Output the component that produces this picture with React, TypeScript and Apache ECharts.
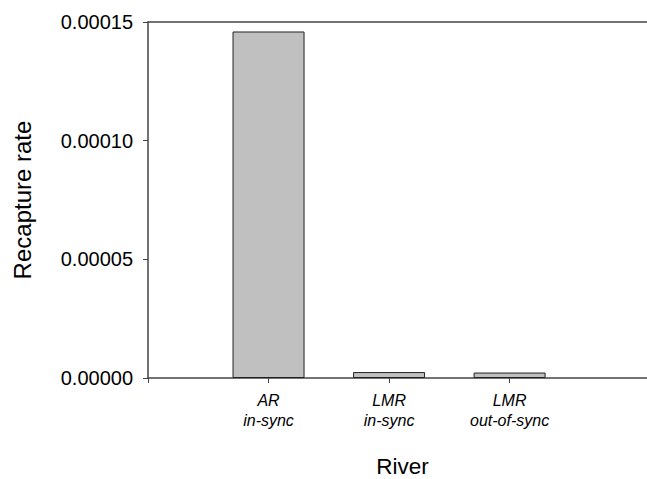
import React, { useEffect, useRef } from "react";
import * as echarts from "echarts";

const categories = ["AR\nin-sync", "LMR\nin-sync", "LMR\nout-of-sync"];
const positions = [1, 2, 3];
const recaptureRates = [0.000146, 0.0000025, 0.0000023];

const FONT = "'Liberation Sans', Arial, Helvetica, sans-serif";

export default function App() {
  const ref = useRef<HTMLDivElement>(null);
  useEffect(() => {
    if (!ref.current) return;
    const chart = echarts.init(ref.current, undefined, { renderer: "svg" });
    const axisLine = { show: true, lineStyle: { color: "#444", width: 1.5 } };
    chart.setOption({
      animation: false,
      backgroundColor: "#fff",
      grid: {
        left: 148,
        right: 0,
        top: 22,
        height: 356,
        containLabel: false,
        outerBoundsMode: "none",
      },
      xAxis: [
        {
          type: "value",
          min: 0,
          max: 4.14,
          interval: 1,
          position: "bottom",
          axisLine,
          splitLine: { show: false },
          axisTick: {
            show: true,
            length: 5,
            customValues: [0, ...positions],
            lineStyle: { color: "#444", width: 1 },
          },
          axisLabel: {
            show: true,
            customValues: positions,
            formatter: (v: number) => {
              const i = positions.indexOf(Math.round(v));
              return i >= 0 ? categories[i] : "";
            },
            margin: 12,
            fontFamily: FONT,
            fontSize: 16,
            fontStyle: "italic",
            lineHeight: 20,
            color: "#000",
          },
          name: "River",
          nameLocation: "middle",
          nameGap: 77,
          nameTextStyle: {
            fontFamily: FONT,
            fontSize: 22.5,
            lineHeight: 22.5,
            color: "#000",
            padding: [0, 0, 0, 10],
          },
        },
        {
          type: "value",
          min: 0,
          max: 4.14,
          position: "top",
          axisLine,
          axisTick: { show: false },
          axisLabel: { show: false },
          splitLine: { show: false },
        },
      ],
      yAxis: {
        type: "value",
        min: 0,
        max: 0.00015,
        interval: 0.00005,
        axisLine,
        splitLine: { show: false },
        axisTick: { show: true, length: 5, lineStyle: { color: "#444", width: 1 } },
        axisLabel: {
          margin: 15,
          fontFamily: FONT,
          fontSize: 20,
          color: "#000",
          formatter: (v: number) => v.toFixed(5),
        },
        name: "Recapture rate",
        nameLocation: "middle",
        nameGap: 114,
        nameTextStyle: { fontFamily: FONT, fontSize: 24, color: "#000" },
      },
      series: [
        {
          type: "bar",
          xAxisIndex: 0,
          barWidth: 72,
          data: positions.map((p, i) => [p, recaptureRates[i]]),
          itemStyle: { color: "#c0c0c0", borderColor: "#222", borderWidth: 1 },
        },
      ],
    });
    return () => chart.dispose();
  }, []);
  return (
    <div
      ref={ref}
      style={{ position: "absolute", left: 0, top: 0, width: 647, height: 479 }}
    />
  );
}
